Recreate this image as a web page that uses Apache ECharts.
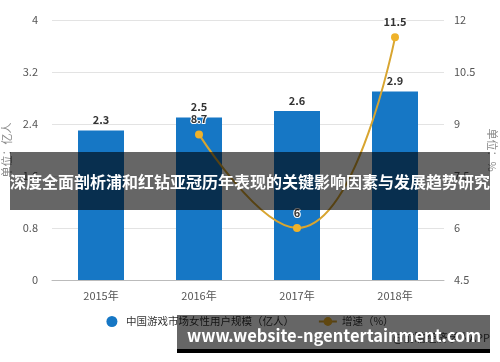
<!DOCTYPE html>
<html><head><meta charset="utf-8">
<script src="https://cdn.jsdelivr.net/npm/echarts@6/dist/echarts.min.js"></script>
<style>html,body{margin:0;padding:0;background:#fff}#c{width:500px;height:362px}</style>
</head><body><div id="c"></div>
<script>
var categories = ['2015年', '2016年', '2017年', '2018年'];
var userScale = [2.3, 2.5, 2.6, 2.9];
var growth = [null, 8.7, 6, 11.5];
var leftTicks = [0, 0.8, 1.6, 2.4, 3.2, 4];
var rightTicks = [4.5, 6, 7.5, 9, 10.5, 12];
var seriesNames = ['中国游戏市场女性用户规模（亿人）', '增速（%）'];
var bannerTitle = '深度全面剖析浦和红钻亚冠历年表现的关键影响因素与发展趋势研究';
var bannerUrl = 'www.website-ngentertainment.com';
var sourceText = '@前瞻经济学人APP';

var font = '"Noto Sans CJK SC", "Noto Sans", sans-serif';
var chart = echarts.init(document.getElementById('c'), null, {renderer: 'canvas'});
chart.setOption({
  animation: false,
  textStyle: {fontFamily: font},
  grid: {left: 52, right: 56, top: 20, bottom: 82, containLabel: false, outerBoundsMode: 'none'},
  legend: {
    bottom: 30, left: 'center', itemGap: 24, itemWidth: 18, itemHeight: 11,
    textStyle: {fontSize: 10.5, color: '#333', fontFamily: font},
    data: [{name: seriesNames[0], icon: 'circle'}, {name: seriesNames[1]}]
  },
  xAxis: {
    type: 'category', data: categories,
    axisLine: {lineStyle: {color: '#bbb'}},
    axisTick: {alignWithLabel: true, lineStyle: {color: '#bbb'}},
    axisLabel: {color: '#555', fontSize: 11, margin: 10}
  },
  yAxis: [{
    type: 'value', min: leftTicks[0], max: leftTicks[leftTicks.length - 1], interval: 0.8,
    name: '单位：亿人', nameLocation: 'middle', nameGap: 39, nameRotate: 90,
    nameTextStyle: {color: '#888', fontSize: 11},
    axisLine: {show: false}, axisTick: {show: false},
    axisLabel: {color: '#555', fontSize: 11, margin: 14},
    splitLine: {lineStyle: {color: '#e3e3e3'}}
  }, {
    type: 'value', min: rightTicks[0], max: rightTicks[rightTicks.length - 1], interval: 1.5,
    name: '单位：%', nameLocation: 'middle', nameGap: 41, nameRotate: -90,
    nameTextStyle: {color: '#888', fontSize: 11},
    axisLine: {show: false}, axisTick: {show: false},
    axisLabel: {color: '#555', fontSize: 11, margin: 10},
    splitLine: {show: false}
  }],
  series: [{
    name: seriesNames[0], type: 'bar', data: userScale, barWidth: 46,
    itemStyle: {color: '#1677c5'},
    label: {show: true, position: 'top', color: '#333', fontWeight: 'bold', fontSize: 11, distance: 5}
  }, {
    name: seriesNames[1], type: 'line', yAxisIndex: 1, data: growth, smooth: true,
    symbol: 'circle', symbolSize: 8, connectNulls: false,
    lineStyle: {color: '#d8a530', width: 2},
    itemStyle: {color: '#efb22a'},
    label: {show: true, position: 'top', color: '#333', fontWeight: 'bold', fontSize: 11,
      textBorderColor: '#fff', textBorderWidth: 2, distance: 6}
  }],
  graphic: [
    {type: 'text', x: 490, y: 338, z: 5, style: {text: sourceText, fill: '#444', font: '11px ' + font, align: 'right', verticalAlign: 'middle'}},
    {type: 'rect', x: 10, y: 152, z: 10, shape: {width: 480, height: 58}, style: {fill: 'rgba(0,0,0,0.6)'}},
    {type: 'text', x: 250, y: 182, z: 11, style: {text: bannerTitle, fill: '#fff', font: 'bold 16px ' + font, align: 'center', verticalAlign: 'middle'}},
    {type: 'rect', x: 177, y: 315, z: 10, shape: {width: 313, height: 34}, style: {fill: 'rgba(0,0,0,0.6)'}},
    {type: 'rect', x: 177, y: 349, z: 10, shape: {width: 313, height: 4}, style: {fill: '#000'}},
    {type: 'text', x: 334, y: 336, z: 11, style: {text: bannerUrl, fill: '#fff', font: 'bold 16.5px ' + font, align: 'center', verticalAlign: 'middle'}}
  ]
});
</script></body></html>
